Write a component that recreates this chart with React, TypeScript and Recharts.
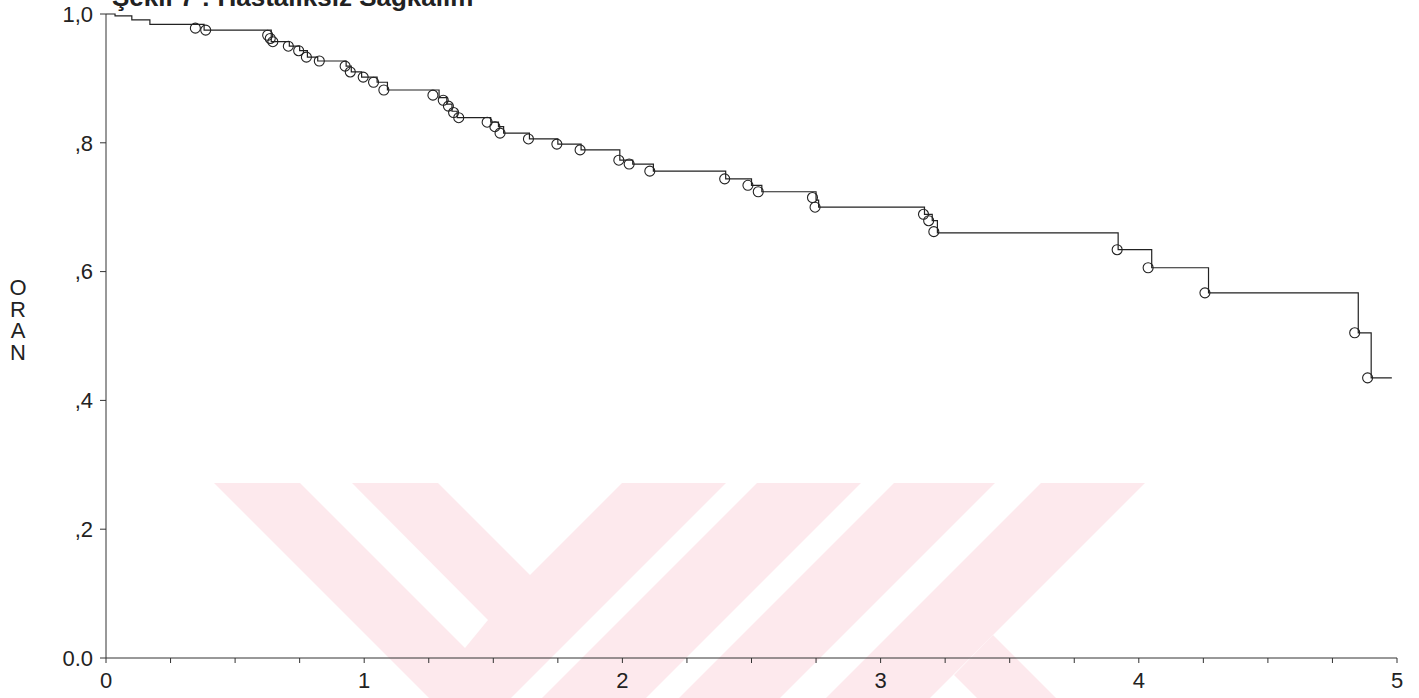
import React from "react";
import { ComposedChart, Line, Scatter, XAxis, YAxis } from "recharts";

// Kaplan-Meier step points (time in years, survival proportion)
const times = [0, 0.035, 0.1, 0.17, 0.38, 0.64, 0.71, 0.75, 0.78, 0.82, 0.93, 0.95, 0.99, 1.05, 1.09, 1.29, 1.32, 1.34, 1.36, 1.49, 1.52, 1.54, 1.64, 1.75, 1.84, 1.99, 2.04, 2.12, 2.4, 2.5, 2.54, 2.75, 2.76, 3.17, 3.2, 3.22, 3.92, 4.05, 4.27, 4.85, 4.9, 4.98];
const survival = [1.0, 0.997, 0.991, 0.984, 0.975, 0.957, 0.95, 0.943, 0.933, 0.927, 0.919, 0.91, 0.902, 0.894, 0.882, 0.87, 0.86, 0.849, 0.839, 0.832, 0.825, 0.815, 0.806, 0.798, 0.789, 0.773, 0.767, 0.756, 0.744, 0.734, 0.724, 0.711, 0.7, 0.689, 0.679, 0.66, 0.634, 0.606, 0.567, 0.505, 0.435, 0.435];

// censor marks (time, survival)
const censorTimes = [0.35, 0.39, 0.63, 0.64, 0.65, 0.71, 0.75, 0.78, 0.83, 0.93, 0.95, 1.0, 1.04, 1.08, 1.27, 1.31, 1.33, 1.35, 1.37, 1.48, 1.51, 1.53, 1.64, 1.75, 1.84, 1.99, 2.03, 2.11, 2.4, 2.49, 2.53, 2.74, 2.75, 3.17, 3.19, 3.21, 3.92, 4.04, 4.26, 4.84, 4.89];
const censorValues = [0.978, 0.975, 0.967, 0.962, 0.957, 0.95, 0.943, 0.933, 0.927, 0.919, 0.91, 0.902, 0.894, 0.882, 0.874, 0.866, 0.857, 0.847, 0.839, 0.832, 0.825, 0.815, 0.806, 0.798, 0.789, 0.773, 0.767, 0.756, 0.744, 0.734, 0.724, 0.715, 0.7, 0.689, 0.679, 0.662, 0.634, 0.606, 0.567, 0.505, 0.435];

const xTicks = [0, 0.25, 0.5, 0.75, 1, 1.25, 1.5, 1.75, 2, 2.25, 2.5, 2.75, 3, 3.25, 3.5, 3.75, 4, 4.25, 4.5, 4.75, 5];
const yTicks = [0, 0.2, 0.4, 0.6, 0.8, 1.0];
const yTickLabels = ["0.0", ",2", ",4", ",6", ",8", "1,0"];
const yAxisLetters = ["O", "R", "A", "N"];
const titleText = "Şekil 7 : Hastalıksız Sağkalım";

const stepData = times.map((t, i) => ({ t, s: survival[i] }));
const censorData = censorTimes.map((t, i) => ({ t, s: censorValues[i] }));

const FONT = "'Liberation Sans', Arial, sans-serif";
const INK = "#222";
const PINK = "#fde9ed";

const CensorMark = (props: any) => {
  const { cx, cy } = props;
  if (cx == null || cy == null) return null;
  return <circle cx={cx - 1} cy={cy} r={5} fill="none" stroke={INK} strokeWidth={1.1} />;
};

const Background = () => (
  <svg width={1419} height={698} style={{ position: "absolute", left: 0, top: 0 }}>
    <g fill={PINK}>
      <polygon points="214,483 726,483 511,698 429,698" />
      <polygon points="757,483 861,483 646,698 542,698" />
      <polygon points="894,483 995,483 780,698 679,698" />
      <polygon points="1041,483 1145,483 930,698 826,698" />
      <polygon points="993,635 1056,698 977,698 954,675" />
    </g>
    <g fill="#ffffff">
      <polygon points="300,483 352,483 488,620 465,648" />
      <polygon points="438,483 622,483 530,575" />
    </g>
    <text x={112} y={6} fontFamily={FONT} fontWeight="bold" fontSize={26} fill={INK}>
      {titleText}
    </text>
    {yAxisLetters.map((l, i) => (
      <text key={i} x={18} y={295 + i * 21.5} fontFamily={FONT} fontSize={22} fill={INK} textAnchor="middle">
        {l}
      </text>
    ))}
  </svg>
);

export default function App() {
  return (
    <div style={{ position: "absolute", left: 0, top: 0, width: 1419, height: 698, background: "#fff" }}>
      <Background />
      <div style={{ position: "absolute", left: 0, top: 0 }}>
        <ComposedChart width={1419} height={698} margin={{ top: 14, right: 22, bottom: 0, left: 0 }}>
          <XAxis
            type="number"
            dataKey="t"
            domain={[0, 5]}
            ticks={xTicks}
            interval={0}
            allowDataOverflow
            height={40}
            tickSize={5}
            tickMargin={9}
            axisLine={{ stroke: "#333", strokeWidth: 1 }}
            tickLine={{ stroke: "#333" }}
            tick={{ fontFamily: FONT, fontSize: 22, fill: INK }}
            tickFormatter={(v: number) => (Number.isInteger(v) ? String(v) : "")}
          />
          <YAxis
            type="number"
            domain={[0, 1]}
            ticks={yTicks}
            interval={0}
            width={106}
            tickSize={6}
            tickMargin={7}
            axisLine={{ stroke: "#333", strokeWidth: 1 }}
            tickLine={{ stroke: "#333" }}
            tick={{ fontFamily: FONT, fontSize: 22, fill: INK }}
            tickFormatter={(v: number) => yTickLabels[yTicks.findIndex((y) => Math.abs(y - v) < 1e-6)] ?? ""}
          />
          <Line
            data={stepData}
            dataKey="s"
            type="stepAfter"
            stroke={INK}
            strokeWidth={1.2}
            dot={false}
            activeDot={false}
            isAnimationActive={false}
          />
          <Scatter data={censorData} dataKey="s" shape={<CensorMark />} isAnimationActive={false} />
        </ComposedChart>
      </div>
    </div>
  );
}
